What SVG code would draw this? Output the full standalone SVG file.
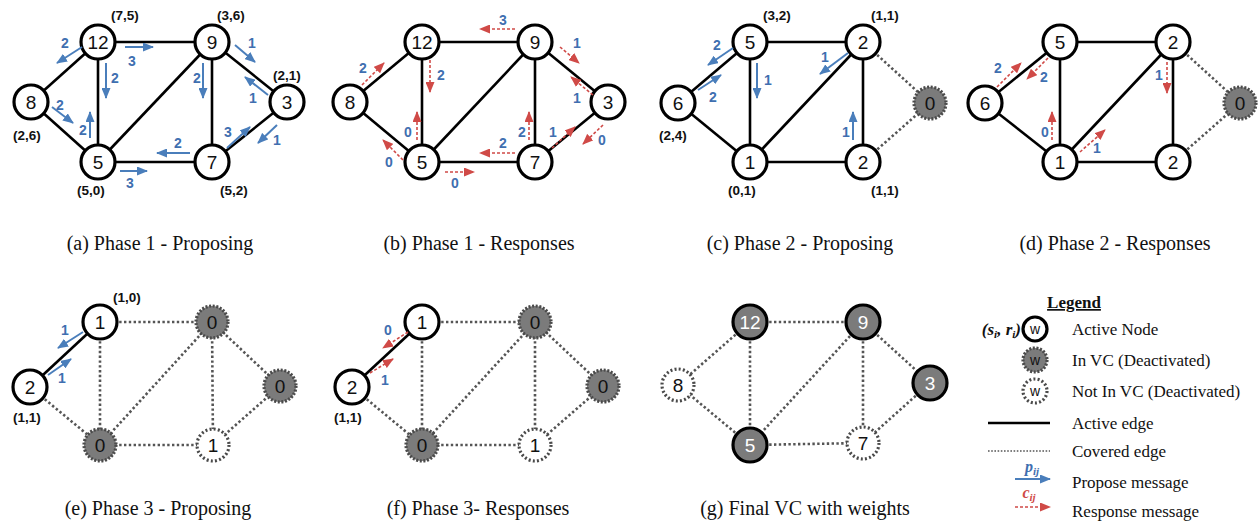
<svg xmlns="http://www.w3.org/2000/svg" width="1259" height="525" viewBox="0 0 1259 525">
  <style>
    .e { stroke: #000; stroke-width: 2.6; fill: none; }
    .ce { stroke: #555; stroke-width: 2.6; stroke-dasharray: 2.4 2.4; fill: none; }
    .n { fill: #fff; stroke: #000; stroke-width: 3.2; }
    .vc { fill: #7b7b7b; stroke: #4a4a4a; stroke-width: 3.2; stroke-dasharray: 2 1.6; }
    .nv { fill: #fff; stroke: #4a4a4a; stroke-width: 3.2; stroke-dasharray: 2 2.2; }
    .fvc { fill: #7b7b7b; stroke: #000; stroke-width: 3.2; }
    .t { font-family: "Liberation Sans", Arial, sans-serif; font-size: 19px; text-anchor: middle; fill: #111; }
    .tw { font-family: "Liberation Sans", Arial, sans-serif; font-size: 19px; text-anchor: middle; fill: #fff; }
    .co { font-family: "Liberation Sans", Arial, sans-serif; font-size: 13.5px; font-weight: bold; text-anchor: middle; fill: #111; }
    .m { font-family: "Liberation Sans", Arial, sans-serif; font-size: 14px; font-weight: bold; text-anchor: middle; fill: #3f6fb0; }
    .cap { font-family: "Liberation Serif", "Times New Roman", serif; font-size: 20px; text-anchor: middle; fill: #111; }
    .lg { font-family: "Liberation Serif", "Times New Roman", serif; font-size: 17px; fill: #111; }
    .w { font-family: "Liberation Sans", Arial, sans-serif; font-size: 14px; text-anchor: middle; fill: #111; }
    .p { stroke: #4a7ebb; stroke-width: 2; fill: none; marker-end: url(#hp); }
    .r { stroke: #d04a47; stroke-width: 1.6; stroke-dasharray: 3 2; fill: none; marker-end: url(#hr); }
  </style>
  <defs>
    <marker id="hp" markerWidth="11" markerHeight="9" refX="10" refY="4.5" orient="auto" markerUnits="userSpaceOnUse">
      <path d="M0,0 L11,4.5 L0,9 z" fill="#4a7ebb"/>
    </marker>
    <marker id="hr" markerWidth="11" markerHeight="9" refX="10" refY="4.5" orient="auto" markerUnits="userSpaceOnUse">
      <path d="M0,0 L11,4.5 L0,9 z" fill="#d04a47"/>
    </marker>
  </defs>

  <rect width="1259" height="525" fill="#fff"/>

  <!-- connectors: edges of every graph -->
  <g id="connectors">
    <!-- (a) -->
    <line class="e" x1="98" y1="42" x2="212" y2="42"/>
    <line class="e" x1="98" y1="42" x2="31" y2="102"/>
    <line class="e" x1="98" y1="42" x2="98" y2="162"/>
    <line class="e" x1="212" y1="42" x2="98" y2="162"/>
    <line class="e" x1="212" y1="42" x2="212" y2="162"/>
    <line class="e" x1="212" y1="42" x2="287" y2="102"/>
    <line class="e" x1="31" y1="102" x2="98" y2="162"/>
    <line class="e" x1="98" y1="162" x2="212" y2="162"/>
    <line class="e" x1="212" y1="162" x2="287" y2="102"/>
    <!-- (b) -->
    <line class="e" x1="422" y1="42" x2="535" y2="42"/>
    <line class="e" x1="422" y1="42" x2="350" y2="102"/>
    <line class="e" x1="422" y1="42" x2="422" y2="162"/>
    <line class="e" x1="535" y1="42" x2="422" y2="162"/>
    <line class="e" x1="535" y1="42" x2="535" y2="162"/>
    <line class="e" x1="535" y1="42" x2="608" y2="102"/>
    <line class="e" x1="350" y1="102" x2="422" y2="162"/>
    <line class="e" x1="422" y1="162" x2="535" y2="162"/>
    <line class="e" x1="535" y1="162" x2="608" y2="102"/>
    <!-- (c) -->
    <line class="e" x1="750" y1="42" x2="863" y2="42"/>
    <line class="e" x1="750" y1="42" x2="678" y2="103" stroke-width="3.4"/>
    <line class="e" x1="750" y1="42" x2="750" y2="162"/>
    <line class="e" x1="678" y1="103" x2="750" y2="162"/>
    <line class="e" x1="750" y1="162" x2="863" y2="42"/>
    <line class="e" x1="750" y1="162" x2="863" y2="162"/>
    <line class="e" x1="863" y1="42" x2="863" y2="162"/>
    <line class="ce" x1="863" y1="42" x2="930" y2="103"/>
    <line class="ce" x1="863" y1="162" x2="930" y2="103"/>
    <!-- (d) -->
    <line class="e" x1="1060" y1="42" x2="1173" y2="42"/>
    <line class="e" x1="1060" y1="42" x2="985" y2="103"/>
    <line class="e" x1="1060" y1="42" x2="1060" y2="162"/>
    <line class="e" x1="985" y1="103" x2="1060" y2="162"/>
    <line class="e" x1="1060" y1="162" x2="1173" y2="42"/>
    <line class="e" x1="1060" y1="162" x2="1173" y2="162"/>
    <line class="e" x1="1173" y1="42" x2="1173" y2="162"/>
    <line class="ce" x1="1173" y1="42" x2="1240" y2="103" stroke-width="3.2"/>
    <line class="ce" x1="1173" y1="162" x2="1240" y2="103" stroke-width="3.2"/>
    <!-- (e) -->
    <line class="e" x1="100" y1="322" x2="30" y2="387"/>
    <line class="ce" x1="100" y1="322" x2="212" y2="322"/>
    <line class="ce" x1="100" y1="322" x2="100" y2="445"/>
    <line class="ce" x1="30" y1="387" x2="100" y2="445"/>
    <line class="ce" x1="212" y1="322" x2="100" y2="445"/>
    <line class="ce" x1="212" y1="322" x2="213" y2="445"/>
    <line class="ce" x1="212" y1="322" x2="280" y2="386"/>
    <line class="ce" x1="100" y1="445" x2="213" y2="445"/>
    <line class="ce" x1="280" y1="386" x2="213" y2="445"/>
    <!-- (f) -->
    <line class="e" x1="422" y1="322" x2="352" y2="387"/>
    <line class="ce" x1="422" y1="322" x2="535" y2="322"/>
    <line class="ce" x1="422" y1="322" x2="422" y2="445"/>
    <line class="ce" x1="352" y1="387" x2="422" y2="445"/>
    <line class="ce" x1="535" y1="322" x2="422" y2="445"/>
    <line class="ce" x1="535" y1="322" x2="535" y2="445"/>
    <line class="ce" x1="535" y1="322" x2="603" y2="386"/>
    <line class="ce" x1="422" y1="445" x2="535" y2="445"/>
    <line class="ce" x1="603" y1="386" x2="535" y2="445"/>
    <!-- (g) -->
    <line class="ce" x1="750" y1="322" x2="863" y2="322"/>
    <line class="ce" x1="750" y1="322" x2="678" y2="385"/>
    <line class="ce" x1="750" y1="322" x2="750" y2="445"/>
    <line class="ce" x1="863" y1="322" x2="750" y2="445"/>
    <line class="ce" x1="863" y1="322" x2="863" y2="443"/>
    <line class="ce" x1="863" y1="322" x2="930" y2="383"/>
    <line class="ce" x1="678" y1="385" x2="750" y2="445"/>
    <line class="ce" x1="750" y1="445" x2="863" y2="443"/>
    <line class="ce" x1="930" y1="383" x2="863" y2="443"/>
  </g>

  <!-- (a) Phase 1 - Proposing -->
  <g id="a-12"><circle class="n" cx="98" cy="42" r="17"/><text class="t" x="98" y="49">12</text><text class="co" x="125" y="20">(7,5)</text></g>
  <g id="a-9"><circle class="n" cx="212" cy="42" r="17"/><text class="t" x="212" y="49">9</text><text class="co" x="231" y="20">(3,6)</text></g>
  <g id="a-8"><circle class="n" cx="31" cy="102" r="17"/><text class="t" x="31" y="109">8</text><text class="co" x="27" y="140">(2,6)</text></g>
  <g id="a-3"><circle class="n" cx="287" cy="102" r="17"/><text class="t" x="287" y="109">3</text><text class="co" x="287" y="80">(2,1)</text></g>
  <g id="a-5"><circle class="n" cx="98" cy="162" r="17"/><text class="t" x="98" y="169">5</text><text class="co" x="91" y="195">(5,0)</text></g>
  <g id="a-7"><circle class="n" cx="212" cy="162" r="17"/><text class="t" x="212" y="169">7</text><text class="co" x="234" y="195">(5,2)</text></g>
  <g id="a-messages">
    <line class="p" x1="82" y1="47" x2="57" y2="63"/><text class="m" x="65" y="48">2</text>
    <line class="p" x1="125" y1="47" x2="153" y2="47"/><text class="m" x="132" y="66">3</text>
    <line class="p" x1="106" y1="63" x2="106" y2="98"/><text class="m" x="115" y="83">2</text>
    <line class="p" x1="52" y1="107" x2="73" y2="123"/><text class="m" x="60" y="110">2</text>
    <line class="p" x1="90" y1="138" x2="90" y2="112"/><text class="m" x="83" y="135">2</text>
    <line class="p" x1="203" y1="63" x2="203" y2="98"/><text class="m" x="197" y="83">2</text>
    <line class="p" x1="235" y1="45" x2="255" y2="62"/><text class="m" x="252" y="48">1</text>
    <line class="p" x1="268" y1="95" x2="245" y2="77"/><text class="m" x="253" y="103">1</text>
    <line class="p" x1="277" y1="125" x2="258" y2="143"/><text class="m" x="277" y="145">1</text>
    <line class="p" x1="227" y1="148" x2="250" y2="127"/><text class="m" x="228" y="137">3</text>
    <line class="p" x1="190" y1="153" x2="157" y2="153"/><text class="m" x="178" y="148">2</text>
    <line class="p" x1="120" y1="171" x2="147" y2="171"/><text class="m" x="130" y="188">3</text>
  </g>
  <text class="cap" x="160" y="250">(a) Phase 1 - Proposing</text>

  <!-- (b) Phase 1 - Responses -->
  <g id="b-12"><circle class="n" cx="422" cy="42" r="17"/><text class="t" x="422" y="49">12</text></g>
  <g id="b-9"><circle class="n" cx="535" cy="42" r="17"/><text class="t" x="535" y="49">9</text></g>
  <g id="b-8"><circle class="n" cx="350" cy="102" r="17"/><text class="t" x="350" y="109">8</text></g>
  <g id="b-3"><circle class="n" cx="608" cy="102" r="17"/><text class="t" x="608" y="109">3</text></g>
  <g id="b-5"><circle class="n" cx="422" cy="162" r="17"/><text class="t" x="422" y="169">5</text></g>
  <g id="b-7"><circle class="n" cx="535" cy="162" r="17"/><text class="t" x="535" y="169">7</text></g>
  <g id="b-messages">
    <line class="r" x1="515" y1="29" x2="480" y2="29"/><text class="m" x="503" y="25">3</text>
    <line class="r" x1="430" y1="60" x2="430" y2="92"/><text class="m" x="441" y="80">2</text>
    <line class="r" x1="362" y1="85" x2="384" y2="63"/><text class="m" x="363" y="73">2</text>
    <line class="r" x1="417" y1="140" x2="417" y2="112"/><text class="m" x="408" y="137">0</text>
    <line class="r" x1="403" y1="160" x2="383" y2="140"/><text class="m" x="389" y="167">0</text>
    <line class="r" x1="445" y1="172" x2="474" y2="172"/><text class="m" x="455" y="188">0</text>
    <line class="r" x1="515" y1="153" x2="480" y2="153"/><text class="m" x="503" y="148">2</text>
    <line class="r" x1="529" y1="140" x2="529" y2="112"/><text class="m" x="522" y="137">2</text>
    <line class="r" x1="552" y1="148" x2="575" y2="127"/><text class="m" x="553" y="137">1</text>
    <line class="r" x1="603" y1="125" x2="583" y2="144"/><text class="m" x="602" y="145">0</text>
    <line class="r" x1="560" y1="47" x2="579" y2="63"/><text class="m" x="577" y="48">1</text>
    <line class="r" x1="593" y1="95" x2="571" y2="77"/><text class="m" x="577" y="103">1</text>
  </g>
  <text class="cap" x="479" y="250">(b) Phase 1 - Responses</text>

  <!-- (c) Phase 2 - Proposing -->
  <g id="c-5"><circle class="n" cx="750" cy="42" r="17"/><text class="t" x="750" y="49">5</text><text class="co" x="777" y="20">(3,2)</text></g>
  <g id="c-2t"><circle class="n" cx="863" cy="42" r="17"/><text class="t" x="863" y="49">2</text><text class="co" x="885" y="20">(1,1)</text></g>
  <g id="c-6"><circle class="n" cx="678" cy="103" r="17"/><text class="t" x="678" y="110">6</text><text class="co" x="673" y="140">(2,4)</text></g>
  <g id="c-1"><circle class="n" cx="750" cy="162" r="17"/><text class="t" x="750" y="169">1</text><text class="co" x="742" y="195">(0,1)</text></g>
  <g id="c-2b"><circle class="n" cx="863" cy="162" r="17"/><text class="t" x="863" y="169">2</text><text class="co" x="885" y="195">(1,1)</text></g>
  <g id="c-0"><circle class="vc" cx="930" cy="103" r="16"/><text class="t" x="930" y="110">0</text></g>
  <g id="c-messages">
    <line class="p" x1="733" y1="48" x2="708" y2="65"/><text class="m" x="717" y="50">2</text>
    <line class="p" x1="698" y1="90" x2="721" y2="75"/><text class="m" x="713" y="102">2</text>
    <line class="p" x1="757" y1="63" x2="757" y2="98"/><text class="m" x="768" y="85">1</text>
    <line class="p" x1="848" y1="53" x2="820" y2="74"/><text class="m" x="825" y="62">1</text>
    <line class="p" x1="853" y1="140" x2="853" y2="112"/><text class="m" x="846" y="137">1</text>
  </g>
  <text class="cap" x="800" y="250">(c) Phase 2 - Proposing</text>

  <!-- (d) Phase 2 - Responses -->
  <g id="d-5"><circle class="n" cx="1060" cy="42" r="17"/><text class="t" x="1060" y="49">5</text></g>
  <g id="d-2t"><circle class="n" cx="1173" cy="42" r="17"/><text class="t" x="1173" y="49">2</text></g>
  <g id="d-6"><circle class="n" cx="985" cy="103" r="17"/><text class="t" x="985" y="110">6</text></g>
  <g id="d-1"><circle class="n" cx="1060" cy="162" r="17"/><text class="t" x="1060" y="169">1</text></g>
  <g id="d-2b"><circle class="n" cx="1173" cy="162" r="17"/><text class="t" x="1173" y="169">2</text></g>
  <g id="d-0"><circle class="vc" cx="1240" cy="103" r="16"/><text class="t" x="1240" y="110">0</text></g>
  <g id="d-messages">
    <line class="r" x1="997" y1="87" x2="1021" y2="63"/><text class="m" x="998" y="73">2</text>
    <line class="r" x1="1048" y1="58" x2="1027" y2="79"/><text class="m" x="1044" y="82">2</text>
    <line class="r" x1="1052" y1="140" x2="1052" y2="112"/><text class="m" x="1045" y="137">0</text>
    <line class="r" x1="1080" y1="152" x2="1105" y2="130"/><text class="m" x="1097" y="153">1</text>
    <line class="r" x1="1167" y1="62" x2="1167" y2="93"/><text class="m" x="1159" y="80">1</text>
  </g>
  <text class="cap" x="1115" y="250">(d) Phase 2 - Responses</text>

  <!-- (e) Phase 3 - Proposing -->
  <g id="e-1"><circle class="n" cx="100" cy="322" r="17"/><text class="t" x="100" y="329">1</text><text class="co" x="127" y="302">(1,0)</text></g>
  <g id="e-0t"><circle class="vc" cx="212" cy="322" r="16"/><text class="t" x="212" y="329">0</text></g>
  <g id="e-2"><circle class="n" cx="30" cy="387" r="17"/><text class="t" x="30" y="394">2</text><text class="co" x="27" y="422">(1,1)</text></g>
  <g id="e-0r"><circle class="vc" cx="280" cy="386" r="16"/><text class="t" x="280" y="393">0</text></g>
  <g id="e-0b"><circle class="vc" cx="100" cy="445" r="16"/><text class="t" x="100" y="452">0</text></g>
  <g id="e-1b"><circle class="nv" cx="213" cy="445" r="16"/><text class="t" x="213" y="452">1</text></g>
  <g id="e-messages">
    <line class="p" x1="83" y1="332" x2="58" y2="348"/><text class="m" x="65" y="335">1</text>
    <line class="p" x1="48" y1="375" x2="71" y2="359"/><text class="m" x="62" y="383">1</text>
  </g>
  <text class="cap" x="158" y="515">(e) Phase 3 - Proposing</text>

  <!-- (f) Phase 3 - Responses -->
  <g id="f-1"><circle class="n" cx="422" cy="322" r="17"/><text class="t" x="422" y="329">1</text></g>
  <g id="f-0t"><circle class="vc" cx="535" cy="322" r="16"/><text class="t" x="535" y="329">0</text></g>
  <g id="f-2"><circle class="n" cx="352" cy="387" r="17"/><text class="t" x="352" y="394">2</text><text class="co" x="348" y="422">(1,1)</text></g>
  <g id="f-0r"><circle class="vc" cx="603" cy="386" r="16"/><text class="t" x="603" y="393">0</text></g>
  <g id="f-0b"><circle class="vc" cx="422" cy="445" r="16"/><text class="t" x="422" y="452">0</text></g>
  <g id="f-1b"><circle class="nv" cx="535" cy="445" r="16"/><text class="t" x="535" y="452">1</text></g>
  <g id="f-messages">
    <line class="r" x1="408" y1="332" x2="383" y2="348"/><text class="m" x="388" y="335">0</text>
    <line class="r" x1="370" y1="373" x2="393" y2="359"/><text class="m" x="385" y="385">1</text>
  </g>
  <text class="cap" x="478" y="515">(f) Phase 3- Responses</text>

  <!-- (g) Final VC with weights -->
  <g id="g-12"><circle class="fvc" cx="750" cy="322" r="17"/><text class="tw" x="750" y="329">12</text></g>
  <g id="g-9"><circle class="fvc" cx="863" cy="322" r="17"/><text class="tw" x="863" y="329">9</text></g>
  <g id="g-8"><circle class="nv" cx="678" cy="385" r="16"/><text class="t" x="678" y="392">8</text></g>
  <g id="g-3"><circle class="fvc" cx="930" cy="383" r="17"/><text class="tw" x="930" y="390">3</text></g>
  <g id="g-5"><circle class="fvc" cx="750" cy="445" r="17"/><text class="tw" x="750" y="452">5</text></g>
  <g id="g-7"><circle class="nv" cx="863" cy="443" r="16"/><text class="t" x="863" y="450">7</text></g>
  <text class="cap" x="805" y="515">(g) Final VC with weights</text>

  <!-- Legend -->
  <g id="legend">
    <text class="lg" x="1074" y="308" font-size="18" font-weight="bold" text-anchor="middle" text-decoration="underline">Legend</text>
    <text x="1021" y="335" font-family="Liberation Serif, serif" font-size="17" font-weight="bold" font-style="italic" text-anchor="end" fill="#111">(s<tspan font-size="11" dy="3">i</tspan><tspan dy="-3">, r</tspan><tspan font-size="11" dy="3">i</tspan><tspan dy="-3">)</tspan></text>
    <circle class="n" cx="1035" cy="329" r="12"/>
    <text class="w" x="1035" y="334">w</text>
    <text class="lg" x="1072" y="335">Active Node</text>
    <circle class="vc" cx="1035" cy="360" r="12" stroke-dasharray="1.6 1.4"/>
    <text class="w" x="1035" y="365">w</text>
    <text class="lg" x="1072" y="366">In VC (Deactivated)</text>
    <circle class="nv" cx="1035" cy="391" r="12" stroke-dasharray="1.6 2"/>
    <text class="w" x="1035" y="396">w</text>
    <text class="lg" x="1072" y="397">Not In VC (Deactivated)</text>
    <line class="e" x1="988" y1="423" x2="1050" y2="423" stroke-width="3"/>
    <text class="lg" x="1072" y="429">Active edge</text>
    <line x1="988" y1="451" x2="1050" y2="451" stroke="#555" stroke-width="1.6" stroke-dasharray="1.6 1.6"/>
    <text class="lg" x="1072" y="457">Covered edge</text>
    <text x="1032" y="472" font-family="Liberation Serif, serif" font-size="16" font-weight="bold" font-style="italic" text-anchor="middle" fill="#3f6fb0">p<tspan font-size="11" dy="3">ij</tspan></text>
    <line class="p" x1="1015" y1="479" x2="1050" y2="479"/>
    <text class="lg" x="1072" y="488">Propose message</text>
    <text x="1029" y="498" font-family="Liberation Serif, serif" font-size="16" font-weight="bold" font-style="italic" text-anchor="middle" fill="#d04a47">c<tspan font-size="11" dy="3">ij</tspan></text>
    <line class="r" x1="1015" y1="507" x2="1050" y2="507"/>
    <text class="lg" x="1072" y="517">Response message</text>
  </g>
</svg>
